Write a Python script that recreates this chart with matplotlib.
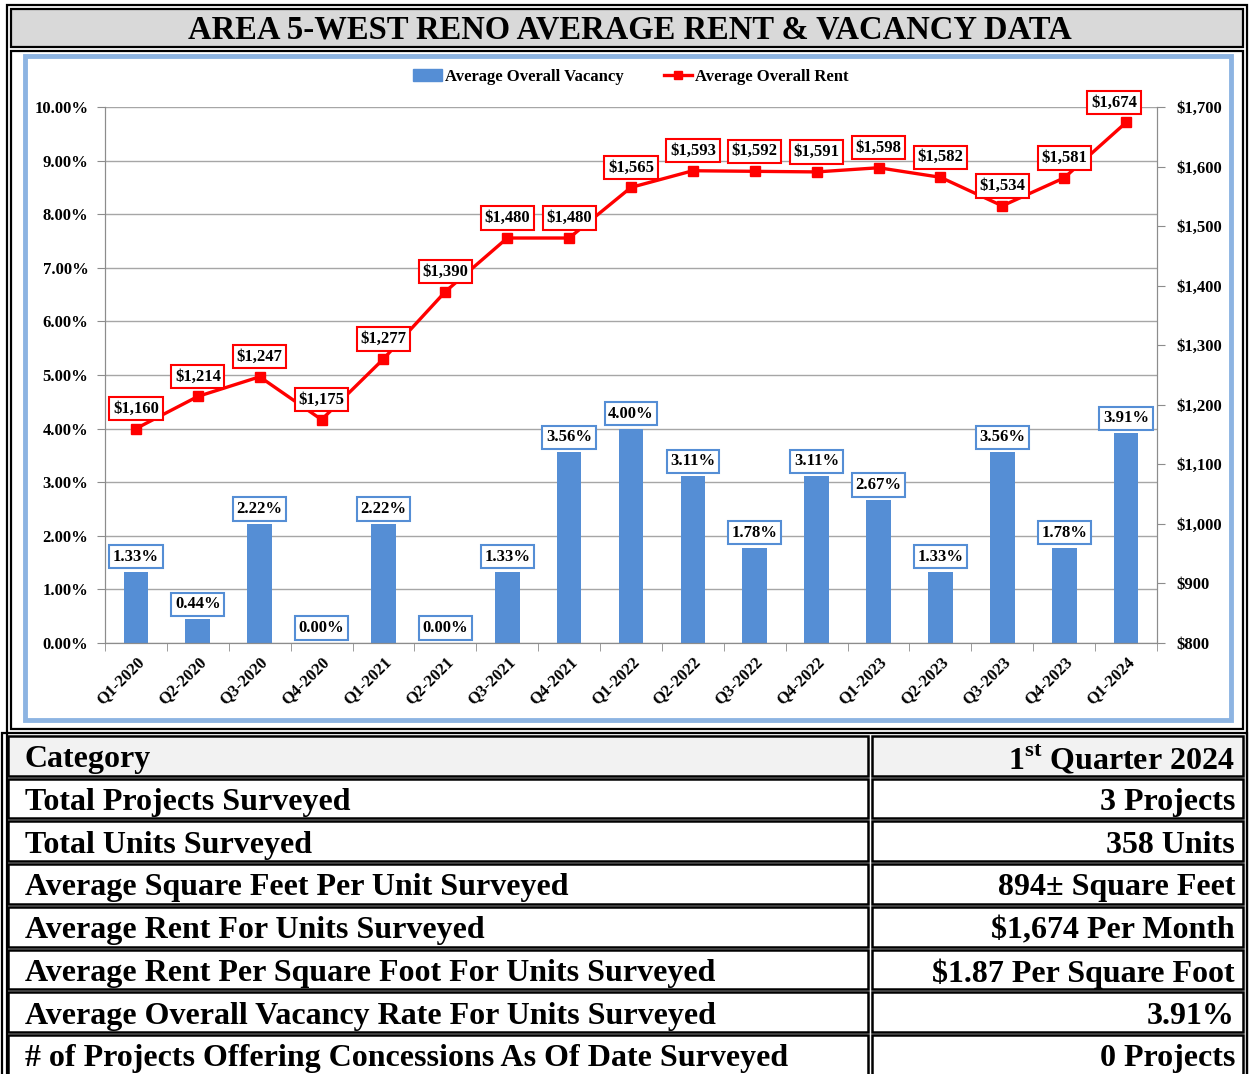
import matplotlib
matplotlib.use('Agg')
import matplotlib.pyplot as plt
from matplotlib.patches import Rectangle, Patch
from matplotlib.lines import Line2D
from matplotlib.ticker import FuncFormatter, MultipleLocator, FixedLocator

quarters = ['Q1-2020', 'Q2-2020', 'Q3-2020', 'Q4-2020', 'Q1-2021', 'Q2-2021',
            'Q3-2021', 'Q4-2021', 'Q1-2022', 'Q2-2022', 'Q3-2022', 'Q4-2022',
            'Q1-2023', 'Q2-2023', 'Q3-2023', 'Q4-2023', 'Q1-2024']
vacancy = [1.33, 0.44, 2.22, 0.00, 2.22, 0.00, 1.33, 3.56, 4.00, 3.11,
           1.78, 3.11, 2.67, 1.33, 3.56, 1.78, 3.91]
rent = [1160, 1214, 1247, 1175, 1277, 1390, 1480, 1480, 1565, 1593,
        1592, 1591, 1598, 1582, 1534, 1581, 1674]

table_labels = ['Category', 'Total Projects Surveyed', 'Total Units Surveyed',
                'Average Square Feet Per Unit Surveyed',
                'Average Rent For Units Surveyed',
                'Average Rent Per Square Foot For Units Surveyed',
                'Average Overall Vacancy Rate For Units Surveyed',
                '# of Projects Offering Concessions As Of Date Surveyed']
table_values = [r'1$^{\mathbf{st}}$ Quarter 2024', '3 Projects', '358 Units',
                '894± Square Feet', '$1,674 Per Month',
                '$1.87 Per Square Foot', '3.91%', '0 Projects']

title = 'AREA 5-WEST RENO AVERAGE RENT & VACANCY DATA'

W, H = 1249, 1074
BAR = '#558ed5'
plt.rcParams['font.family'] = ['Liberation Serif', 'DejaVu Serif']
plt.rcParams['font.weight'] = 'bold'
plt.rcParams['mathtext.fontset'] = 'custom'
plt.rcParams['mathtext.bf'] = 'Liberation Serif:bold'
plt.rcParams['mathtext.rm'] = 'Liberation Serif:bold'

fig = plt.figure(figsize=(W / 100, H / 100), dpi=100)


def box(x0, y0, x1, y1, **kw):
    fig.add_artist(Rectangle((x0 / W, 1 - y1 / H), (x1 - x0) / W, (y1 - y0) / H,
                             transform=fig.transFigure, **kw))


def ftext(x, y, s, **kw):
    fig.text(x / W, 1 - y / H, s, **kw)


# frames
box(7, 5, 1247, 1090, fill=False, ec='black', lw=1.6)
box(11, 9, 1243, 47, fc='#d9d9d9', ec='black', lw=1.6)
ftext(630, 30, title, ha='center', va='center', fontsize=23.5, fontweight='bold')
box(11, 51, 1243, 729, fill=False, ec='black', lw=1.6)
box(25, 56, 1231, 720, fill=False, ec='#8db4e2', lw=3.5)

# chart
ax = fig.add_axes([105 / W, 1 - 643 / H, 1052 / W, 536 / H])
x = range(len(quarters))
ax.bar(x, vacancy, width=0.4, color=BAR, zorder=2)
ax.set_xlim(-0.5, len(quarters) - 0.5)
ax.set_ylim(0, 10)
ax.yaxis.set_major_locator(MultipleLocator(1))
ax.yaxis.set_major_formatter(FuncFormatter(lambda v, p: f'{v:.2f}%'))
ax.grid(axis='y', color='#a6a6a6', lw=1.0, zorder=0)
ax.set_axisbelow(True)
ax.set_xticks(list(x))
ax.set_xticklabels(quarters, rotation=45, ha='right', rotation_mode='anchor',
                   fontsize=12, fontweight='bold')
ax.xaxis.set_minor_locator(FixedLocator([i - 0.5 for i in range(len(quarters) + 1)]))
ax.tick_params(axis='x', which='major', length=0, pad=8)
ax.tick_params(axis='x', which='minor', length=6, color='#8c8c8c')
ax.tick_params(axis='y', length=6, color='#8c8c8c', labelsize=12, pad=6)
ax.spines['top'].set_visible(False)
for s in ['left', 'bottom', 'right']:
    ax.spines[s].set_color('#8c8c8c')

for i, v in enumerate(vacancy):
    ax.annotate(f'{v:.2f}%', (i, v), xytext=(0, 15), textcoords='offset pixels',
                ha='center', va='center', fontsize=12, fontweight='bold',
                bbox=dict(boxstyle='square,pad=0.22', fc='white', ec=BAR, lw=1.5),
                zorder=5)

ax2 = ax.twinx()
ax2.plot(list(x), rent, color='red', lw=2.4, marker='s', markersize=7, zorder=3)
ax2.set_ylim(800, 1700)
ax2.yaxis.set_major_locator(MultipleLocator(100))
ax2.yaxis.set_major_formatter(FuncFormatter(lambda v, p: f'${v:,.0f}'))
ax2.tick_params(axis='y', length=6, color='#8c8c8c', labelsize=12, pad=8)
ax2.spines['top'].set_visible(False)
for s in ['left', 'bottom', 'right']:
    ax2.spines[s].set_color('#8c8c8c')

shift = {16: -12}
for i, r in enumerate(rent):
    ax2.annotate(f'${r:,}', (i, r), xytext=(shift.get(i, 0), 20),
                 textcoords='offset pixels', ha='center', va='center',
                 fontsize=12, fontweight='bold',
                 bbox=dict(boxstyle='square,pad=0.22', fc='white', ec='red', lw=1.5),
                 zorder=6)

handles = [Patch(color=BAR), Line2D([], [], color='red', lw=2.4, marker='s', markersize=6)]
fig.legend(handles, ['Average Overall Vacancy', 'Average Overall Rent'], ncol=2,
           loc='center', bbox_to_anchor=(631 / W, 1 - 77 / H), frameon=False,
           prop={'size': 12, 'weight': 'bold'}, handlelength=1.7, columnspacing=2.4,
           handletextpad=0.2)

# table
box(2, 733, 1247, 1090, fill=False, ec='black', lw=1.6)
row_h = 42.7
for i, (lab, val) in enumerate(zip(table_labels, table_values)):
    top = 736 + i * row_h
    bot = top + row_h - 3
    fc = '#f2f2f2' if i == 0 else 'white'
    box(8, top, 868, bot, fc=fc, ec='black', lw=1.8, zorder=-1)
    box(872, top, 1243, bot, fc=fc, ec='black', lw=1.8, zorder=-1)
    ftext(25, (top + bot) / 2 + 4, lab, ha='left', va='center', fontsize=23,
          fontweight='bold')
    ftext(1235, (top + bot) / 2 + 4, val, ha='right', va='center', fontsize=23,
          fontweight='bold')

fig.savefig('out.png', dpi=100)
